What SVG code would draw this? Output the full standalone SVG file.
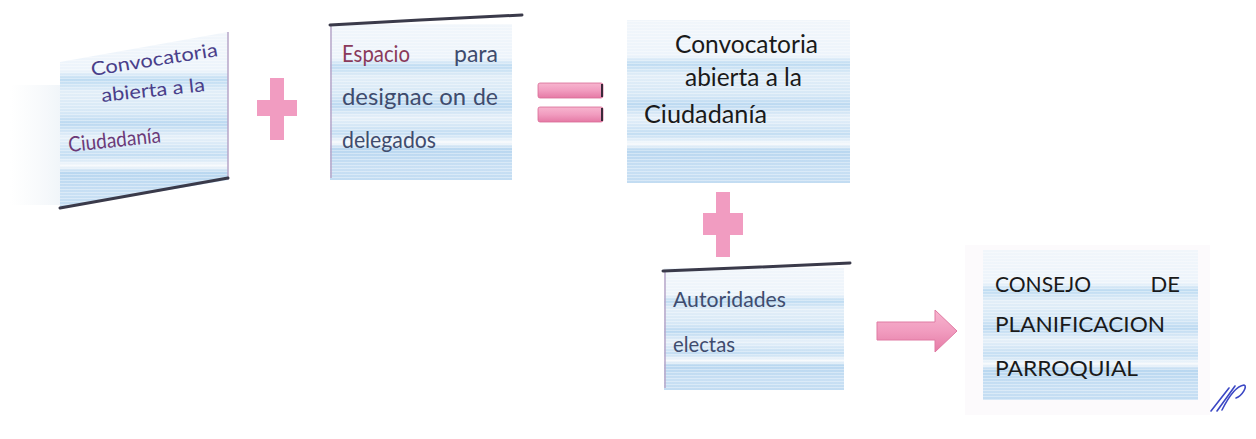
<svg xmlns="http://www.w3.org/2000/svg" width="1256" height="439" viewBox="0 0 1256 439">
  <defs>
    <linearGradient id="stripes" x1="0" y1="0" x2="0" y2="1">
      <stop offset="0" stop-color="#f1f6fb"/>
      <stop offset="0.22" stop-color="#edf4fb"/>
      <stop offset="0.27" stop-color="#bfdcf2"/>
      <stop offset="0.34" stop-color="#e2eef8"/>
      <stop offset="0.46" stop-color="#d6e8f6"/>
      <stop offset="0.52" stop-color="#bcd9f1"/>
      <stop offset="0.6" stop-color="#e6f0f9"/>
      <stop offset="0.7" stop-color="#c4def3"/>
      <stop offset="0.76" stop-color="#f6f9fc"/>
      <stop offset="0.8" stop-color="#b9d7f0"/>
      <stop offset="0.92" stop-color="#c9e0f4"/>
      <stop offset="1" stop-color="#c2dcf2"/>
    </linearGradient>
    <linearGradient id="halo" x1="0" y1="0" x2="1" y2="0">
      <stop offset="0" stop-color="#eef2f6" stop-opacity="0"/>
      <stop offset="1" stop-color="#e6eef5" stop-opacity="0.6"/>
    </linearGradient>
    <linearGradient id="pinkBar" x1="0" y1="0" x2="0" y2="1">
      <stop offset="0" stop-color="#f7b5cf"/>
      <stop offset="0.5" stop-color="#f19cbf"/>
      <stop offset="1" stop-color="#e57aa5"/>
    </linearGradient>
    <pattern id="scan" width="6" height="3" patternUnits="userSpaceOnUse">
      <rect x="0" y="0" width="6" height="1" fill="#ffffff" fill-opacity="0.35"/>
    </pattern>
    <style>
      .box { fill: url(#stripes); }
      .scan { fill: url(#scan); }
      .edge { fill: none; stroke: #3a3a4a; stroke-width: 3; stroke-linecap: round; }
      .side { fill: none; stroke: #b7a6c8; stroke-width: 1.5; }
      .plus { fill: #f19cc1; }
      .pinkbar { fill: url(#pinkBar); stroke: #d86b96; stroke-width: 0.8; }
      text { font-family: Lato, "Open Sans", sans-serif; }
      .t1 { font-size: 19px; fill: #4a3f8a; }
      .t2 { font-size: 23px; fill: #3f4c6e; }
      .t4 { font-size: 22px; fill: #3f4c6e; }
      .t3 { font-size: 25px; fill: #1a1a1a; }
      .t5 { font-size: 22px; fill: #1a1a1a; }
    </style>
  </defs>

  <rect width="1256" height="439" fill="#ffffff"/>

  <!-- faint background halo left of box 1 -->
  <rect x="10" y="85" width="52" height="120" fill="url(#halo)"/>

  <g id="node-box1">
    <polygon class="box" points="60,62 228,32 228,180 60,208"/>
    <polygon class="scan" points="60,62 228,32 228,180 60,208"/>
    <line class="side" x1="228" y1="32" x2="228" y2="180"/>
    <line class="edge" x1="60" y1="208" x2="228" y2="178"/>
    <text class="t1" x="92" y="76" transform="rotate(-9 92 76)" textLength="128" lengthAdjust="spacingAndGlyphs">Convocatoria</text>
    <text class="t1" x="102" y="102" transform="rotate(-6 102 102)" textLength="104" lengthAdjust="spacingAndGlyphs">abierta a la</text>
    <text class="t1" x="69" y="152" transform="rotate(-6 69 152)" textLength="93" lengthAdjust="spacingAndGlyphs" style="fill:#6b3a78;font-size:21px">Ciudadanía</text>
  </g>

  <g id="op-plus1">
    <rect class="plus" x="270" y="78" width="14" height="62"/>
    <rect class="plus" x="257" y="100" width="40" height="16"/>
  </g>

  <g id="node-box2">
    <rect class="box" x="330" y="24" width="182" height="156"/>
    <rect class="scan" x="330" y="24" width="182" height="156"/>
    <line class="side" x1="331" y1="26" x2="331" y2="178"/>
    <path class="edge" d="M330,25 L420,20 L522,15"/>
    <text class="t2" x="342" y="62" textLength="68" lengthAdjust="spacingAndGlyphs" style="fill:#8a3a5a">Espacio</text>
    <text class="t2" x="498" y="62" text-anchor="end">para</text>
    <text class="t2" x="342" y="105" textLength="124" lengthAdjust="spacingAndGlyphs">designac on</text>
    <text class="t2" x="498" y="105" text-anchor="end">de</text>
    <text class="t2" x="342" y="148" textLength="94" lengthAdjust="spacingAndGlyphs">delegados</text>
  </g>

  <g id="op-equals">
    <rect class="pinkbar" x="538" y="83" width="65" height="15" rx="2"/>
    <rect class="pinkbar" x="538" y="107" width="65" height="15" rx="2"/>
    <line x1="602" y1="84" x2="602" y2="97" stroke="#3a2a3a" stroke-width="2"/>
    <line x1="602" y1="108" x2="602" y2="121" stroke="#3a2a3a" stroke-width="2"/>
  </g>

  <g id="node-box3">
    <rect class="box" x="627" y="20" width="223" height="163"/>
    <rect class="scan" x="627" y="20" width="223" height="163"/>
    <text class="t3" x="675" y="53" textLength="143" lengthAdjust="spacingAndGlyphs">Convocatoria</text>
    <text class="t3" x="685" y="86" textLength="117" lengthAdjust="spacingAndGlyphs">abierta a la</text>
    <text class="t3" x="644" y="123" textLength="123" lengthAdjust="spacingAndGlyphs">Ciudadanía</text>
  </g>

  <g id="op-plus2">
    <rect class="plus" x="716" y="192" width="14" height="65"/>
    <rect class="plus" x="703" y="213" width="40" height="22"/>
  </g>

  <g id="node-box4">
    <rect class="box" x="664" y="268" width="180" height="122"/>
    <rect class="scan" x="664" y="268" width="180" height="122"/>
    <line class="side" x1="665" y1="270" x2="665" y2="388"/>
    <path class="edge" d="M663,271 L760,267 L850,263"/>
    <text class="t4" x="673" y="307" textLength="113" lengthAdjust="spacingAndGlyphs">Autoridades</text>
    <text class="t4" x="673" y="352" textLength="62" lengthAdjust="spacingAndGlyphs">electas</text>
  </g>

  <g id="connectors">
    <path d="M877,322 L935,322 L935,310 L957,331 L935,352 L935,340 L877,340 Z" fill="url(#pinkBar)" stroke="#e07aa3" stroke-width="1"/>
  </g>

  <g id="node-box5">
    <rect x="965" y="245" width="245" height="170" fill="#f5f1f7" fill-opacity="0.35"/>
    <rect class="box" x="983" y="250" width="215" height="150"/>
    <rect class="scan" x="983" y="250" width="215" height="150"/>
    <text class="t5" x="995" y="292" textLength="96" lengthAdjust="spacingAndGlyphs">CONSEJO</text>
    <text class="t5" x="1180" y="292" text-anchor="end">DE</text>
    <text class="t5" x="995" y="332" textLength="170" lengthAdjust="spacingAndGlyphs">PLANIFICACION</text>
    <text class="t5" x="995" y="376" textLength="143" lengthAdjust="spacingAndGlyphs">PARROQUIAL</text>
  </g>

  <g id="signature" fill="none" stroke="#3b47c4" stroke-width="1.6" stroke-linecap="round">
    <path d="M1211,411 L1229,388"/>
    <path d="M1217,411 L1235,386"/>
    <path d="M1222,410 C1228,398 1236,386 1244,385 C1248,386 1242,396 1236,398"/>
  </g>
</svg>
